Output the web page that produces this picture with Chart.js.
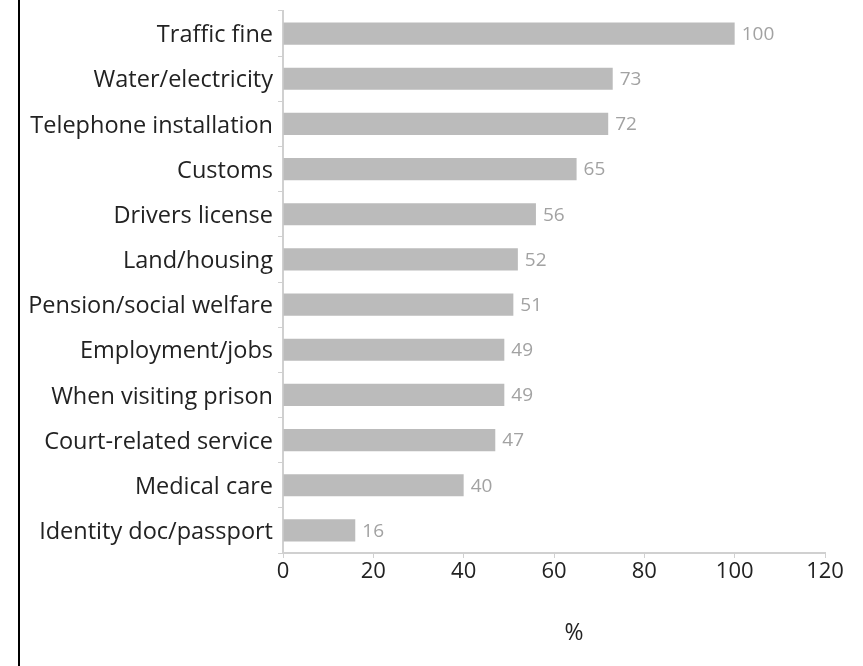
<!DOCTYPE html>
<html>
<head>
<meta charset="utf-8">
<script src="https://cdn.jsdelivr.net/npm/chart.js@4/dist/chart.umd.min.js"></script>
<style>
  html, body { margin: 0; padding: 0; background: #fff; }
  #wrap { position: relative; width: 863px; height: 666px; }
  #edge { position: absolute; left: 18px; top: 0; width: 2px; height: 666px; background: #000; }
  #bars { position: absolute; left: 0; top: 0; }
</style>
</head>
<body>
<div id="wrap">
  <div id="edge"></div>
  <canvas id="bars" width="863" height="666"></canvas>
</div>
<script>
const services = [
  'Traffic fine',
  'Water/electricity',
  'Telephone installation',
  'Customs',
  'Drivers license',
  'Land/housing',
  'Pension/social welfare',
  'Employment/jobs',
  'When visiting prison',
  'Court-related service',
  'Medical care',
  'Identity doc/passport'
];
const percents = [100, 73, 72, 65, 56, 52, 51, 49, 49, 47, 40, 16];
const x_max = 120;
const x_step = 20;
const x_title = '%';

const font_name = '"Open Sans", "Noto Sans", sans-serif';
const axis_grey = '#d0d0d0';

// value printed just right of each bar
const value_labels = {
  id: 'value_labels',
  afterDatasetsDraw(chart) {
    const ctx = chart.ctx;
    const meta = chart.getDatasetMeta(0);
    ctx.save();
    ctx.font = '19px ' + font_name;
    ctx.fillStyle = '#a2a2a2';
    ctx.textAlign = 'left';
    ctx.textBaseline = 'middle';
    meta.data.forEach((bar, i) => {
      ctx.fillText(String(percents[i]), bar.x + 7, bar.y + 1);
    });
    ctx.restore();
  }
};

// axis title sits a bit right of the plot centre
const x_axis_title = {
  id: 'x_axis_title',
  afterDraw(chart) {
    const ctx = chart.ctx;
    const area = chart.chartArea;
    ctx.save();
    ctx.font = '23px ' + font_name;
    ctx.fillStyle = '#222';
    ctx.textAlign = 'center';
    ctx.textBaseline = 'middle';
    ctx.fillText(x_title, (area.left + area.right) / 2 + 20, 633);
    ctx.restore();
  }
};

const chart = new Chart(document.getElementById('bars'), {
  type: 'bar',
  data: {
    labels: services,
    datasets: [{
      data: percents,
      backgroundColor: '#bbbbbb',
      barPercentage: 0.49,
      categoryPercentage: 1
    }]
  },
  options: {
    indexAxis: 'y',
    responsive: false,
    animation: false,
    events: [],
    layout: { padding: { top: 11, right: 38, left: 0, bottom: 0 } },
    plugins: {
      legend: { display: false },
      tooltip: { enabled: false }
    },
    scales: {
      x: {
        min: 0,
        max: x_max,
        ticks: {
          stepSize: x_step,
          color: '#222',
          font: { family: font_name, size: 22 },
          padding: 1,
          maxRotation: 0
        },
        grid: { drawOnChartArea: false, drawTicks: true, tickLength: 5, color: axis_grey },
        border: { color: axis_grey, width: 2 },
        afterFit: scale => {
          scale.height = 113;
          scale.paddingLeft = 0;
          scale.paddingRight = 0;
        }
      },
      y: {
        ticks: {
          color: '#222',
          font: { family: font_name, size: 23.5 },
          padding: 5,
          labelOffset: 2,
          autoSkip: false
        },
        grid: { drawOnChartArea: false, drawTicks: true, tickLength: 5, color: axis_grey },
        border: { color: axis_grey, width: 2 },
        afterFit: scale => {
          scale.width = 283;
          scale.paddingTop = 0;
          scale.paddingBottom = 0;
        }
      }
    }
  },
  plugins: [value_labels, x_axis_title]
});
</script>
</body>
</html>
